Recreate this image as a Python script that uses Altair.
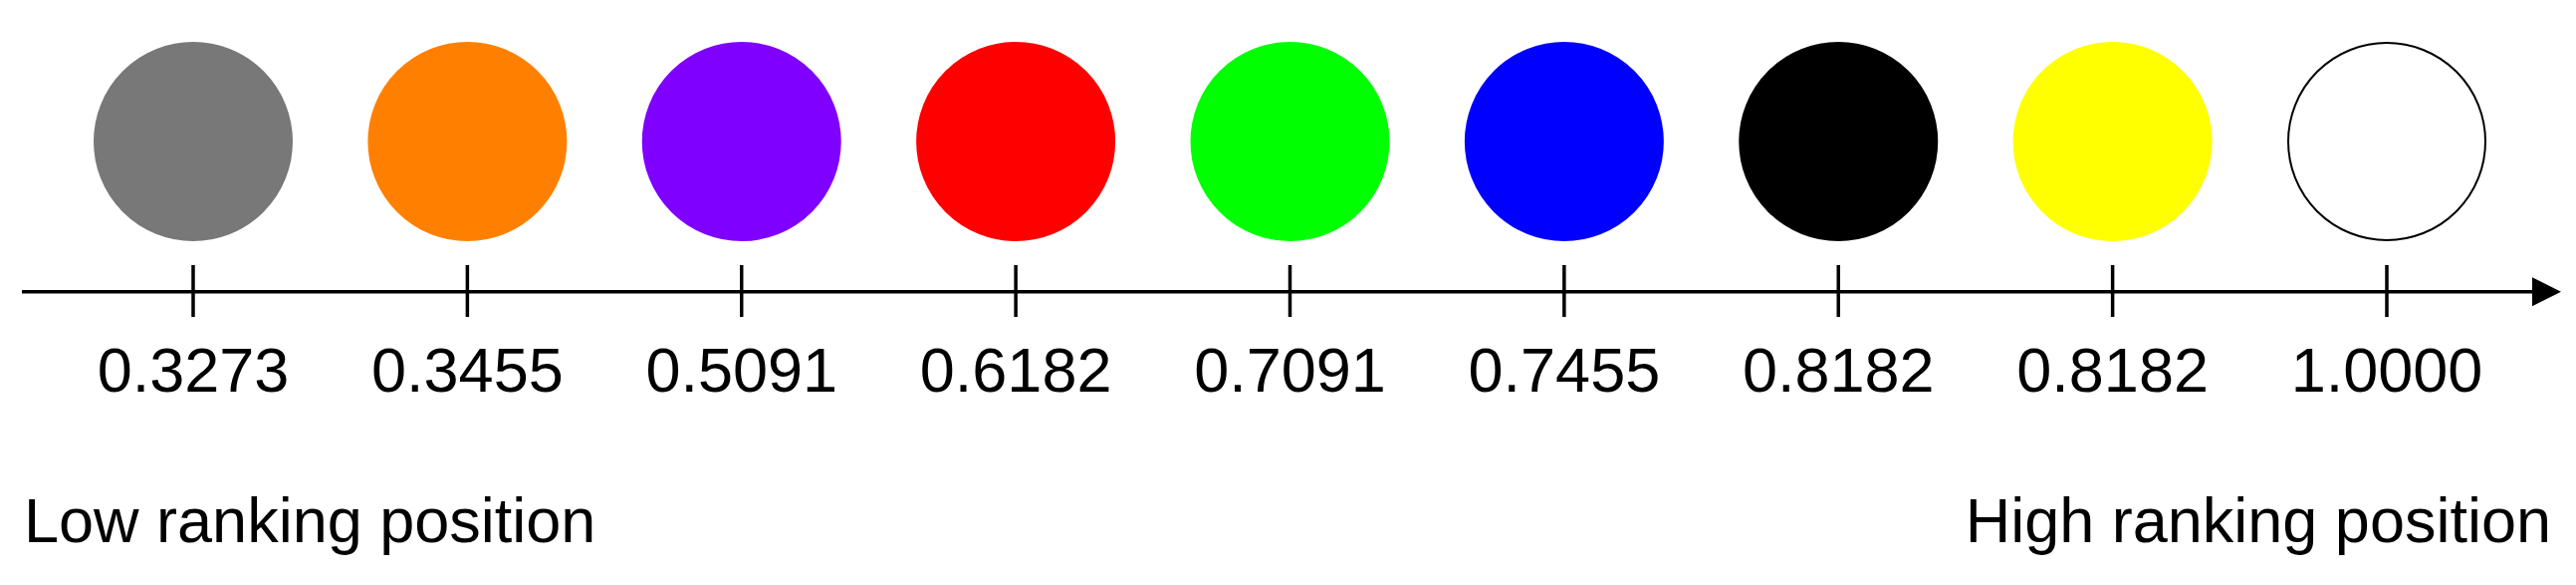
import altair as alt
import pandas as pd

# Data
scores = ["0.3273", "0.3455", "0.5091", "0.6182", "0.7091", "0.7455", "0.8182", "0.8182", "1.0000"]
fills = ["#787878", "#ff8000", "#8000ff", "#ff0000", "#00ff00", "#0000ff", "#000000", "#ffff00", "#ffffff"]
outlines = ["#787878", "#ff8000", "#8000ff", "#ff0000", "#00ff00", "#0000ff", "#000000", "#ffff00", "#000000"]
end_labels = ["Low ranking position", "High ranking position"]

df = pd.DataFrame({
    "pos": list(range(len(scores))),
    "score": scores,
    "fill": fills,
    "outline": outlines,
})
one = pd.DataFrame({"k": [0]})

W, H = 2571, 565
FONT = "Liberation Sans"

x = alt.X("pos:Q", scale=alt.Scale(domain=[-0.6754, 8.6609], nice=False, zero=False), axis=None)
base = alt.Chart(df)

circles = base.mark_point(shape="circle", filled=True, size=39204, strokeWidth=2, opacity=1).encode(
    x=x,
    y=alt.value(134),
    fill=alt.Fill("fill:N", scale=None),
    stroke=alt.Stroke("outline:N", scale=None),
)

ticks = base.mark_rule(strokeWidth=3.5, color="black").encode(
    x=x, y=alt.value(258), y2=alt.value(310)
)

labels = base.mark_text(fontSize=63, font=FONT, baseline="alphabetic", align="center", color="black").encode(
    x=x, y=alt.value(385), text="score:N"
)

axis_line = alt.Chart(one).mark_rule(strokeWidth=3.5, color="black").encode(
    x=alt.value(14), x2=alt.value(2540), y=alt.value(284.7)
)

arrow = alt.Chart(one).mark_point(shape="M-1,-1L1,0L-1,1Z", filled=True, size=841, color="black", opacity=1).encode(
    x=alt.value(2549.5), y=alt.value(284.7)
)

low_text = alt.Chart(one).mark_text(fontSize=63, font=FONT, align="left", baseline="alphabetic", color="black").encode(
    x=alt.value(16), y=alt.value(536), text=alt.value(end_labels[0])
)
high_text = alt.Chart(one).mark_text(fontSize=63, font=FONT, align="right", baseline="alphabetic", color="black").encode(
    x=alt.value(2554), y=alt.value(536), text=alt.value(end_labels[1])
)

chart = alt.layer(circles, axis_line, ticks, arrow, labels, low_text, high_text).properties(
    width=W, height=H, autosize="none", padding=0, background="white"
).configure_view(stroke=None)

chart.save("out.html", embed_options={"renderer": "svg", "actions": False})
